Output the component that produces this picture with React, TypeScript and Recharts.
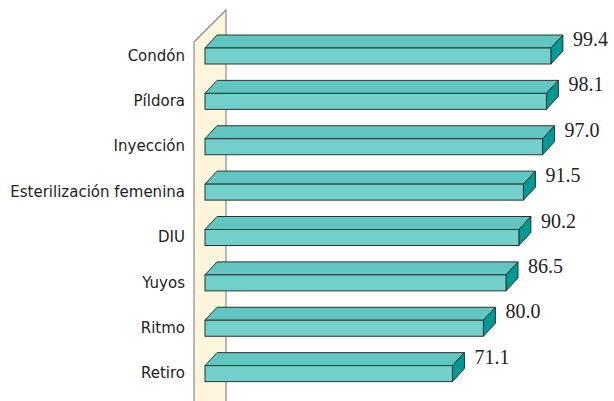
import { BarChart, Bar, XAxis, YAxis, LabelList, ReferenceArea } from 'recharts';

const categories = ['Condón', 'Píldora', 'Inyección', 'Esterilización femenina', 'DIU', 'Yuyos', 'Ritmo', 'Retiro'];
const values = [99.4, 98.1, 97.0, 91.5, 90.2, 86.5, 80.0, 71.1];

const data = categories.map((name, i) => ({ name, value: values[i] }));

const DX = 12;
const DY = 13;

const Bar3D = ({ x, y, width, height }: any) => {
    if (width == null || width <= 0) return null;
    const stroke = '#263636';
    return (
        <g>
            <polygon
                points={`${x},${y} ${x + DX},${y - DY} ${x + width + DX},${y - DY} ${x + width},${y}`}
                fill="#62c6c0"
                stroke={stroke}
                strokeWidth={1}
                strokeLinejoin="round"
            />
            <polygon
                points={`${x + width},${y} ${x + width + DX},${y - DY} ${x + width + DX},${y + height - DY} ${x + width},${y + height}`}
                fill="#009a96"
                stroke={stroke}
                strokeWidth={1}
                strokeLinejoin="round"
            />
            <rect x={x} y={y} width={width} height={height} fill="#72cfc9" stroke={stroke} strokeWidth={1} />
        </g>
    );
};

// back wall drawn off the zero line of the value axis
const Wall = ({ x, y, height }: any) => {
    const left = x - 11;
    const right = x + 21;
    const top = y - 23;
    const bottom = y + height + 40;
    return (
        <polygon
            points={`${left},${top + 32} ${right},${top} ${right},${bottom - 32} ${left},${bottom}`}
            fill="#fdf5dc"
            stroke="#8a8a8a"
            strokeWidth={1.2}
        />
    );
};

const CategoryTick = ({ y, payload }: any) => (
    <text
        x={185}
        y={y}
        dy={5}
        textAnchor="end"
        fill="#222"
        style={{ fontFamily: 'DejaVu Sans, sans-serif', fontSize: 15 }}
    >
        {payload.value}
    </text>
);

const ValueLabel = ({ x, y, width, value }: any) => (
    <text
        x={x + width + 22}
        y={y - 9}
        dy={7}
        fill="#222"
        style={{ fontFamily: 'Liberation Serif, serif', fontSize: 20 }}
    >
        {Number(value).toFixed(1)}
    </text>
);

export default function App() {
    return (
        <div style={{ position: 'absolute', left: 0, top: 0, background: '#fff' }}>
            <BarChart
                width={614}
                height={401}
                data={data}
                layout="vertical"
                margin={{ top: 33, right: 61, left: 0, bottom: 5 }}
                barCategoryGap={0}
            >
                <XAxis type="number" domain={[0, 100]} hide />
                <YAxis
                    type="category"
                    dataKey="name"
                    width={205}
                    axisLine={false}
                    tickLine={false}
                    tick={<CategoryTick />}
                    interval={0}
                />
                <ReferenceArea x1={0} x2={1} ifOverflow="visible" shape={<Wall />} />
                <Bar dataKey="value" barSize={16} shape={<Bar3D />} isAnimationActive={false}>
                    <LabelList dataKey="value" content={<ValueLabel />} />
                </Bar>
            </BarChart>
        </div>
    );
}
